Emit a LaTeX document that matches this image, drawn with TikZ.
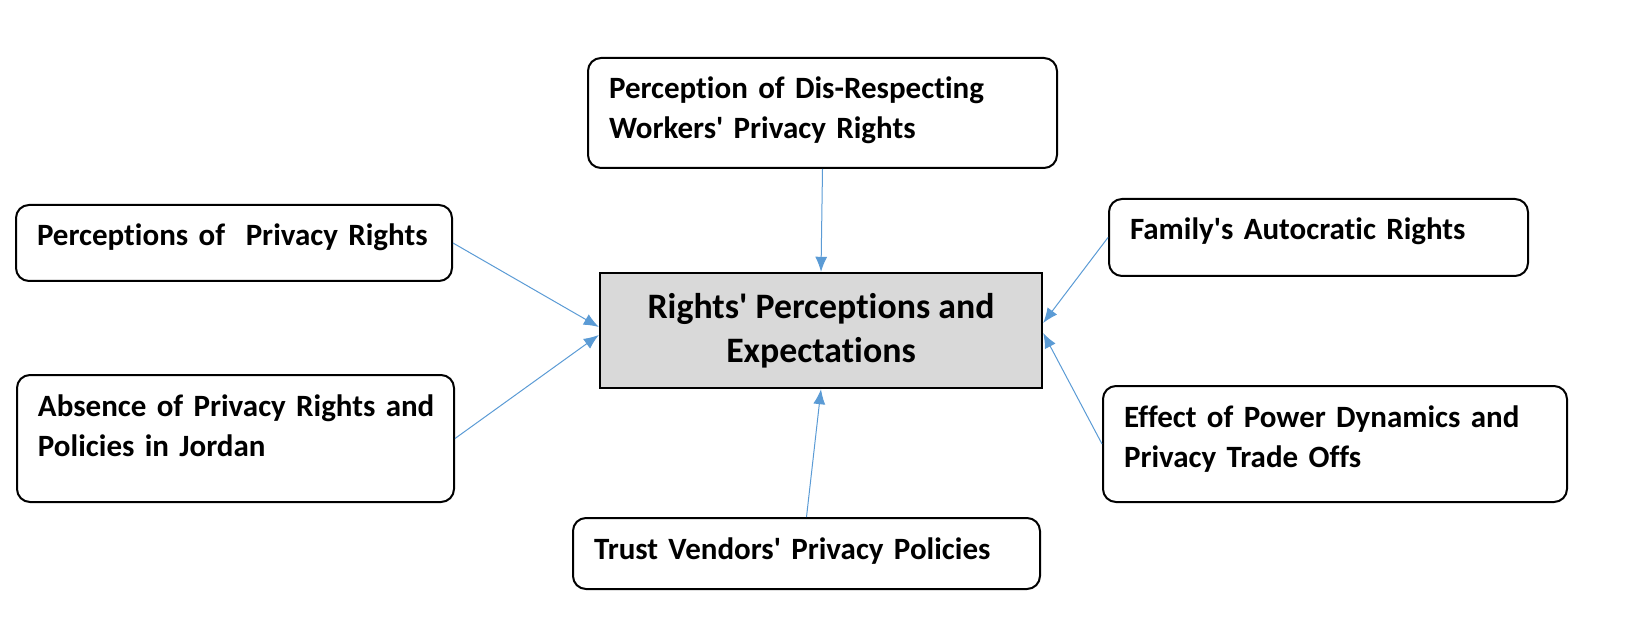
\documentclass[tikz,border=0pt]{standalone}
\usepackage{fontspec}
\setmainfont{Carlito}[Ligatures={TeXOff,NoCommon}]
\usetikzlibrary{arrows.meta}
\definecolor{linkblue}{HTML}{5B9BD5}
\definecolor{coregray}{HTML}{D9D9D9}
\tikzset{
	topic/.style={draw, rounded corners=6.5pt, line width=1pt, anchor=north west, align=left, inner xsep=10.5pt, inner ysep=5pt, text height=15.5pt, font=\fontsize{15.5}{20}\selectfont\bfseries},
	core/.style={draw, fill=coregray, line width=1.2pt, minimum width=221pt, minimum height=57.5pt, align=center, font=\fontsize{17.9}{22}\selectfont\bfseries},
	% thin blue connectors
	link/.style={linkblue, line width=0.5pt},
}

\begin{document}
\begin{tikzpicture}[x=0.5pt, y=-0.5pt]
		\useasboundingbox (0,0) rectangle (1644,636);
		
		\node (centre) [core] at (821,330.5) {Rights' Perceptions and\\Expectations};
		
		\node (disrespect) [topic, text width=213.5pt, text depth=29.5pt] at (587,57) {Perception of Dis-Respecting\\Workers' Privacy Rights};
		\node (perceive) [topic, text width=197pt, text depth=12.5pt] at (15,204) {\mbox{Perceptions of \ Privacy Rights}};
		\node (absence) [topic, text width=197.5pt, text depth=38pt] at (16,374) {\mbox{Absence of Privacy Rights and}\\Policies in Jordan};
		\node (family) [topic, text width=188.5pt, text depth=13pt] at (1108,198) {Family's Autocratic Rights};
		\node (power) [topic, text width=211pt, text depth=32.5pt] at (1102,385) {Effect of Power Dynamics and\\Privacy Trade Offs};
		\node (vendors) [topic, text width=212.5pt, text depth=10pt] at (572,517) {Trust Vendors' Privacy Policies};
		
		\begin{scope}[link, ->, >={Latex[length=7.5pt, width=6pt]}]
			\draw (disrespect.south) -- (centre.north);
			\draw (perceive.east) -- ([yshift=1.75pt]centre.west);
			\draw (absence.east) -- ([yshift=-2.25pt]centre.west);
			\draw (family.west) -- ([yshift=3.75pt]centre.east);
			\draw (power.west) -- ([yshift=-1.25pt]centre.east);
			\draw (vendors.north) -- (centre.south);
		\end{scope}
	\end{tikzpicture}
\end{document}
